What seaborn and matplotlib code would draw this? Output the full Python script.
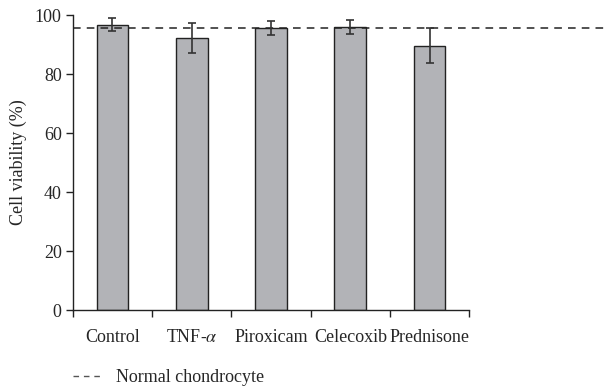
import matplotlib
matplotlib.use("Agg")
import matplotlib.pyplot as plt
from matplotlib.lines import Line2D
import seaborn as sns
import pandas as pd
import numpy as np

categories = ["Control", "TNF-$\\alpha$", "Piroxicam", "Celecoxib", "Prednisone"]
viability = [96.8, 92.3, 95.7, 96.0, 89.6]
errors = [2.2, 5.0, 2.4, 2.5, 5.9]
normal_level = 95.8
yticks = [0, 20, 40, 60, 80, 100]

sns.set_theme(style="ticks")
plt.rcParams['font.family'] = ['Liberation Serif', 'DejaVu Serif']
plt.rcParams['mathtext.fontset'] = 'stix'

fig = plt.figure(figsize=(6.07, 3.89), dpi=100)
ax = fig.add_axes([0.120, 0.203, 0.653, 0.758])

df = pd.DataFrame({"cat": categories, "val": viability})
sns.barplot(data=df, x="cat", y="val", color="#b2b3b7", saturation=1,
            width=0.4, edgecolor="#222222", linewidth=1.0, ax=ax)
ax.errorbar(np.arange(len(categories)), viability, yerr=errors, fmt="none",
            ecolor="#333333", elinewidth=1.2, capsize=3, capthick=1.2, zorder=5)

ax.axhline(normal_level, xmin=0, xmax=(607 - 73) / (469 - 73), color="#222222",
           linestyle=(0, (5, 4)), linewidth=1.1, clip_on=False, zorder=1)

ax.set_xlim(-0.5, len(categories) - 0.5)
ax.set_ylim(0, 100)
ax.set_yticks(yticks)
ax.set_xticks(np.arange(-0.5, len(categories), 1.0))
ax.set_xticklabels([""] * (len(categories) + 1))
ax.set_xticks(np.arange(len(categories)), minor=True)
ax.set_xticklabels(categories, minor=True)
ax.tick_params(axis="x", which="minor", length=0, pad=14, labelsize=13)
ax.tick_params(axis="x", which="major", length=5, width=1, color="#222222")
ax.tick_params(axis="y", length=5, width=1, color="#222222", labelsize=13, pad=3)
ax.set_xlabel("")
ax.set_ylabel("Cell viability (%)", fontsize=13, labelpad=6)
sns.despine(ax=ax)
for s in ["left", "bottom"]:
    ax.spines[s].set_color("#222222")
    ax.spines[s].set_linewidth(1)

handle = Line2D([0], [0], color="#555555", linestyle=(0, (4, 3.5)), linewidth=1)
fig.legend([handle], ["Normal chondrocyte"], loc="lower left",
           bbox_to_anchor=(0.093, -0.035), frameon=False, fontsize=13,
           handlelength=1.7, handletextpad=0.7)

fig.savefig("out.png", dpi=100)
